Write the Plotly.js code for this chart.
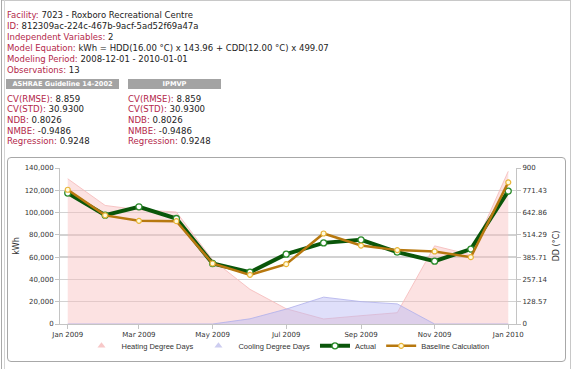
<!DOCTYPE html>
<html>
<head>
<meta charset="utf-8">
<script src="https://cdn.plot.ly/plotly-3.0.1.min.js"></script>
<style>
  html, body { margin:0; padding:0; background:#fff; }
  body { width:572px; height:369px; position:relative; overflow:hidden; font-family:"DejaVu Sans", Verdana, sans-serif; }
  .frameL { position:absolute; left:1px; top:0; width:0; height:369px; border-left:1px solid #a9a9a9; }
  .frameL2 { position:absolute; left:4px; top:0; width:0; height:369px; border-left:1px solid #d4d4d4; }
  .frameT { position:absolute; left:1px; top:0; width:570px; height:0; border-top:1px solid #c8c8c8; }
  .frameR { position:absolute; left:570px; top:0; width:0; height:369px; border-left:1px solid #c8c8c8; }
  .line { position:absolute; left:7px; font-size:8.5px; line-height:11px; height:11px; white-space:nowrap; color:#222; }
  .lbl { color:#b3274a; }
  .bar { position:absolute; top:79px; height:10px; line-height:10px; background:#a3a3a3; color:#fff; font-weight:bold; font-size:6.6px; text-align:center; white-space:nowrap; }
  .stat { position:absolute; font-size:8.6px; line-height:11px; height:11px; white-space:nowrap; color:#222; }
  #box { position:absolute; left:7px; top:157px; width:559px; height:205px; box-sizing:border-box; border:1px solid #a8a8a8; border-radius:4px; }
  #chart { position:absolute; left:0; top:0; width:557px; height:203px; }
</style>
</head>
<body>
<div class="frameT"></div>
<div class="frameL"></div>
<div class="frameL2"></div>
<div class="frameR"></div>

<div class="line" style="top:9.5px"><span class="lbl">Facility:</span> 7023 - Roxboro Recreational Centre</div>
<div class="line" style="top:20.5px"><span class="lbl">ID:</span> 812309ac-224c-467b-9acf-5ad52f69a47a</div>
<div class="line" style="top:31.5px"><span class="lbl">Independent Variables:</span> 2</div>
<div class="line" style="top:42.5px"><span class="lbl">Model Equation:</span> kWh = HDD(16.00 °C) x 143.96 + CDD(12.00 °C) x 499.07</div>
<div class="line" style="top:53.5px"><span class="lbl">Modeling Period:</span> 2008-12-01 - 2010-01-01</div>
<div class="line" style="top:64.5px"><span class="lbl">Observations:</span> 13</div>

<div class="bar" style="left:6px; width:113px;">ASHRAE Guideline 14-2002</div>
<div class="bar" style="left:128px; width:93px;">IPMVP</div>

<div class="stat" style="left:7px; top:93.5px"><span class="lbl">CV(RMSE):</span> 8.859</div>
<div class="stat" style="left:7px; top:104.2px"><span class="lbl">CV(STD):</span> 30.9300</div>
<div class="stat" style="left:7px; top:114.9px"><span class="lbl">NDB:</span> 0.8026</div>
<div class="stat" style="left:7px; top:125.6px"><span class="lbl">NMBE:</span> -0.9486</div>
<div class="stat" style="left:7px; top:136.3px"><span class="lbl">Regression:</span> 0.9248</div>

<div class="stat" style="left:128px; top:93.5px"><span class="lbl">CV(RMSE):</span> 8.859</div>
<div class="stat" style="left:128px; top:104.2px"><span class="lbl">CV(STD):</span> 30.9300</div>
<div class="stat" style="left:128px; top:114.9px"><span class="lbl">NDB:</span> 0.8026</div>
<div class="stat" style="left:128px; top:125.6px"><span class="lbl">NMBE:</span> -0.9486</div>
<div class="stat" style="left:128px; top:136.3px"><span class="lbl">Regression:</span> 0.9248</div>

<div id="box"><div id="chart"></div></div>

<script>
// ---- data ----
var months = ['2009-01-01','2009-02-01','2009-03-01','2009-04-01','2009-05-01','2009-06-01','2009-07-01',
              '2009-08-01','2009-09-01','2009-10-01','2009-11-01','2009-12-01','2010-01-01'];
var actualKWh   = [117500, 97700, 105200, 94700, 54300, 46500, 62700, 72800, 75500, 64500, 56400, 67200, 119300];
var baselineKWh = [120500, 97500, 92600, 92300, 54300, 44100, 53700, 81200, 70400, 66300, 65100, 60000, 127100];
var heatingDD   = [838, 684, 659, 646, 370, 200, 88, 29, 48, 65, 451, 399, 881];
var coolingDD   = [0, 0, 0, 0, 0, 30, 86, 155, 129, 116, 0, 0, 0];
var ddTickVals  = [0, 128.5714, 257.1429, 385.7143, 514.2857, 642.8571, 771.4286, 900];
var ddTickText  = ['0', '128.57', '257.14', '385.71', '514.29', '642.86', '771.43', '900'];
var seriesNames = ['Heating Degree Days', 'Cooling Degree Days', 'Actual', 'Baseline Calculation'];

var heatFill = 'rgba(248,190,190,0.45)', heatLine = 'rgba(245,185,185,0.8)';
var coolFill = 'rgba(185,185,245,0.45)', coolLine = 'rgba(175,175,235,0.8)';
var tickFont = {family:'DejaVu Sans, Verdana, sans-serif', size:7, color:'#333'};

var traces = [
  {x:months, y:heatingDD, yaxis:'y', type:'scatter', mode:'lines', fill:'tozeroy',
   fillcolor:heatFill, line:{color:heatLine, width:1}, showlegend:false, hoverinfo:'skip', name:seriesNames[0]},
  {x:months, y:coolingDD, yaxis:'y', type:'scatter', mode:'lines', fill:'tozeroy',
   fillcolor:coolFill, line:{color:coolLine, width:1}, showlegend:false, hoverinfo:'skip', name:seriesNames[1]},
  {x:[null], y:[null], yaxis:'y', type:'scatter', mode:'markers', name:seriesNames[0],
   marker:{symbol:'triangle-up', size:7, color:'rgba(248,200,200,1)'}},
  {x:[null], y:[null], yaxis:'y', type:'scatter', mode:'markers', name:seriesNames[1],
   marker:{symbol:'triangle-up', size:7, color:'rgba(205,205,240,1)'}},
  {x:months, y:actualKWh, yaxis:'y2', type:'scatter', mode:'lines+markers', name:seriesNames[2],
   line:{color:'#0a560a', width:4}, marker:{size:6, color:'#ffffff', line:{color:'#2a8a2a', width:1.3}}},
  {x:months, y:baselineKWh, yaxis:'y2', type:'scatter', mode:'lines+markers', name:seriesNames[3],
   line:{color:'#b7780f', width:2.5}, marker:{size:5, color:'#fffbe0', line:{color:'#e8b438', width:1.2}}}
];

var layout = {
  width:557, height:203,
  margin:{l:52, r:49, t:10, b:37, pad:0, autoexpand:false},
  paper_bgcolor:'rgba(0,0,0,0)', plot_bgcolor:'#fff',
  showlegend:true,
  legend:{orientation:'h', x:0.5, xanchor:'center', y:-0.14, yanchor:'middle',
          font:{family:'Liberation Sans, Arial, sans-serif', size:7.5, color:'#333'},
          itemwidth:30, tracegroupgap:0, bgcolor:'rgba(0,0,0,0)'},
  xaxis:{type:'date', range:['2008-12-25 14:00','2010-01-07 10:00'],
         tick0:'2009-01-01', dtick:'M2', tickformat:'%b %Y',
         showgrid:false, zeroline:false, showline:true, linecolor:'#c4c4c4', linewidth:1,
         ticks:'outside', ticklen:4, tickcolor:'#c4c4c4', tickfont:tickFont},
  yaxis:{range:[0,900], side:'right', tickmode:'array', tickvals:ddTickVals, ticktext:ddTickText,
         showgrid:true, gridcolor:'#d2d2d2', gridwidth:1.3, zeroline:false,
         showline:true, linecolor:'#c4c4c4', linewidth:1, ticks:'outside', ticklen:4, tickcolor:'#c4c4c4',
         tickfont:tickFont,
         title:{text:'DD (°C)', standoff:6, font:{family:'DejaVu Sans, Verdana, sans-serif', size:8, color:'#333'}}},
  yaxis2:{range:[0,140000], overlaying:'y', side:'left', dtick:20000, tickformat:',d',
          showgrid:false, zeroline:false, showline:true, linecolor:'#c4c4c4', linewidth:1,
          ticks:'outside', ticklen:4, tickcolor:'#c4c4c4', tickfont:tickFont,
          title:{text:'kWh', standoff:3, font:{family:'DejaVu Sans, Verdana, sans-serif', size:8, color:'#333'}}}
};

Plotly.newPlot('chart', traces, layout, {displayModeBar:false, staticPlot:true});
</script>
</body>
</html>
